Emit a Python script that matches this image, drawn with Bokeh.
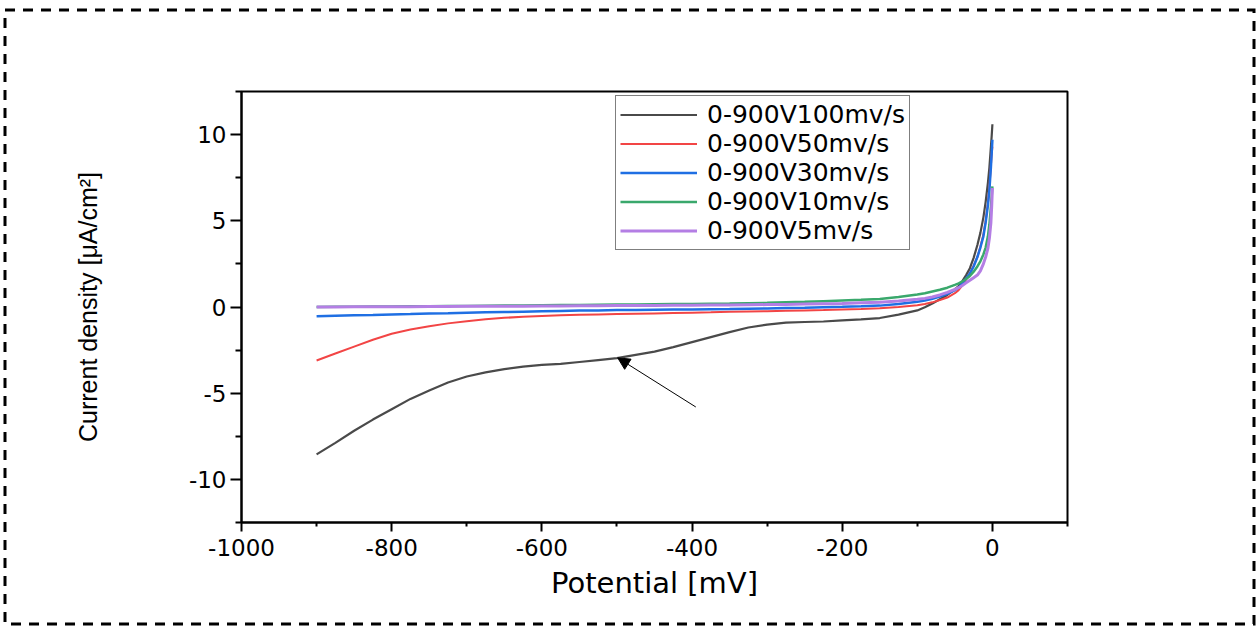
from urllib.parse import quote
from bokeh.plotting import figure
from bokeh.models import (FixedTicker, Legend, LegendItem, Arrow, NormalHead, Range1d)
from bokeh.embed import file_html
from bokeh.resources import INLINE

# ---------------- data ----------------
potential = [-900, -875, -850, -825, -800, -775, -750, -725, -700, -675, -650,
             -625, -600, -575, -550, -525, -500, -475, -450, -425, -400, -375,
             -350, -325, -300, -275, -250, -225, -200, -175, -150, -125, -100,
             -90, -80, -70, -60, -50, -45, -40, -35, -30, -25, -20, -16, -12,
             -9, -6, -4, -2, -1, 0]

j_100 = [-8.55, -7.88, -7.18, -6.53, -5.93, -5.33, -4.84, -4.38, -4.03, -3.79, -3.6,
         -3.46, -3.36, -3.3, -3.19, -3.08, -2.97, -2.78, -2.59, -2.33, -2.04, -1.75,
         -1.46, -1.19, -1.02, -0.91, -0.87, -0.84, -0.78, -0.72, -0.64, -0.44, -0.2,
         -0.02, 0.2, 0.45, 0.7, 1.02, 1.22, 1.5, 1.85, 2.25, 2.85, 3.6, 4.3, 5.2,
         6.1, 7.2, 8.1, 9.3, 9.9, 10.6]
j_50 = [-3.1, -2.7, -2.3, -1.9, -1.55, -1.31, -1.12, -0.95, -0.82, -0.71, -0.63,
        -0.56, -0.52, -0.48, -0.45, -0.43, -0.41, -0.39, -0.37, -0.35, -0.33, -0.31,
        -0.28, -0.26, -0.24, -0.22, -0.2, -0.18, -0.15, -0.12, -0.07, 0.0, 0.1,
        0.18, 0.27, 0.4, 0.55, 0.8, 0.98, 1.25, 1.6, 1.95, 2.4, 2.9, 3.5, 4.2,
        5.0, 6.0, 7.0, 8.2, 8.9, 9.3]
j_30 = [-0.54, -0.51, -0.48, -0.46, -0.43, -0.41, -0.38, -0.36, -0.33, -0.31, -0.29,
        -0.27, -0.25, -0.23, -0.21, -0.2, -0.18, -0.17, -0.16, -0.15, -0.14, -0.13,
        -0.12, -0.1, -0.08, -0.06, -0.04, -0.01, 0.01, 0.04, 0.08, 0.17, 0.3,
        0.38, 0.47, 0.6, 0.76, 0.98, 1.13, 1.36, 1.65, 1.95, 2.35, 2.9, 3.45, 4.1,
        4.9, 5.9, 6.8, 8.1, 8.9, 9.7]
j_10 = [0.0, 0.01, 0.02, 0.03, 0.03, 0.04, 0.05, 0.06, 0.06, 0.07, 0.08,
        0.09, 0.1, 0.11, 0.12, 0.13, 0.14, 0.15, 0.16, 0.17, 0.18, 0.19,
        0.2, 0.22, 0.24, 0.27, 0.3, 0.34, 0.38, 0.42, 0.47, 0.58, 0.72,
        0.8, 0.9, 1.0, 1.12, 1.28, 1.37, 1.48, 1.62, 1.8, 2.05, 2.35, 2.65, 3.05,
        3.45, 4.1, 4.8, 5.8, 6.4, 7.0]
j_5 = [0.0, 0.0, 0.01, 0.01, 0.02, 0.02, 0.03, 0.03, 0.04, 0.04, 0.05,
       0.05, 0.06, 0.06, 0.07, 0.07, 0.08, 0.08, 0.09, 0.1, 0.1, 0.11,
       0.12, 0.13, 0.14, 0.15, 0.17, 0.19, 0.21, 0.24, 0.27, 0.35, 0.45,
       0.5, 0.58, 0.7, 0.85, 1.02, 1.12, 1.25, 1.4, 1.55, 1.7, 1.85, 2.1, 2.5,
       2.9, 3.4, 4.0, 4.9, 5.8, 6.9]

series_labels = ["0-900V100mv/s", "0-900V50mv/s", "0-900V30mv/s",
                 "0-900V10mv/s", "0-900V5mv/s"]
series_values = [j_100, j_50, j_30, j_10, j_5]
series_colors = ["#4a4a4a", "#f24545", "#1f6fe3", "#3aa86c", "#b47ee4"]
series_widths = [2.2, 2, 2.5, 2.5, 3]

x_ticks = [-1000, -800, -600, -400, -200, 0]
x_tick_labels = ["-1000", "-800", "-600", "-400", "-200", "0"]
x_minor = [-900, -700, -500, -300, -100, 100]
y_ticks = [-10, -5, 0, 5, 10]
y_tick_labels = ["-10", "-5", "0", "5", "10"]
y_minor = [-12.5, -7.5, -2.5, 2.5, 7.5, 12.5]

# annotation arrow (data coordinates)
arrow_start = (-395, -5.8)
arrow_end = (-499, -2.95)

# ---------------- figure ----------------
FONT = "DejaVu Sans"
W, H = 1258, 626

p = figure(width=W, height=H, output_backend="svg", toolbar_location=None,
           x_range=Range1d(-1000, 100), y_range=Range1d(-12.5, 12.5),
           min_border_left=241, min_border_right=191,
           min_border_top=91, min_border_bottom=104)

p.grid.visible = False
p.outline_line_color = "black"
p.outline_line_width = 2
p.background_fill_color = "white"
p.border_fill_color = None

# dashed page border drawn as the page background behind the transparent canvas border
border_svg = ("<svg xmlns='http://www.w3.org/2000/svg' width='%d' height='%d'>"
              "<rect x='5' y='10' width='1249' height='614' fill='none' "
              "stroke='black' stroke-width='3' stroke-dasharray='10 8'/></svg>" % (W, H))
p.styles = {"background-image": 'url("data:image/svg+xml;charset=utf-8,%s")' % quote(border_svg),
            "background-repeat": "no-repeat",
            "background-color": "white"}

# axes
p.xaxis.ticker = FixedTicker(ticks=x_ticks, minor_ticks=x_minor)
p.xaxis.major_label_overrides = {t: l for t, l in zip(x_ticks, x_tick_labels)}
p.yaxis.ticker = FixedTicker(ticks=y_ticks, minor_ticks=y_minor)
p.yaxis.major_label_overrides = {t: l for t, l in zip(y_ticks, y_tick_labels)}

for ax in (p.xaxis, p.yaxis):
    ax.axis_line_width = 2
    ax.axis_line_color = "black"
    ax.major_tick_line_width = 2
    ax.minor_tick_line_width = 2
    ax.major_tick_line_color = "black"
    ax.minor_tick_line_color = "black"
    ax.major_tick_in = 0
    ax.minor_tick_in = 0
    ax.major_label_text_font = FONT
    ax.major_label_text_font_size = "23px"
    ax.major_label_text_color = "black"
    ax.axis_label_text_font_style = "normal"
    ax.axis_label_text_color = "black"

p.xaxis.major_tick_out = 9
p.xaxis.minor_tick_out = 4
p.xaxis.major_label_standoff = 7
p.xaxis.axis_label = "Potential [mV]"
p.xaxis.axis_label_text_font = FONT
p.xaxis.axis_label_text_font_size = "29px"
p.xaxis.axis_label_standoff = 7

p.yaxis.major_tick_out = 11
p.yaxis.minor_tick_out = 6
p.yaxis.major_label_standoff = 4
p.yaxis.axis_label = "Current density [\u03bcA/cm\u00b2]"
p.yaxis.axis_label_text_font = "Liberation Sans"
p.yaxis.axis_label_text_font_size = "25px"
p.yaxis.axis_label_standoff = 84

# curves
items = []
for lab, vals, col, w in zip(series_labels, series_values, series_colors, series_widths):
    r = p.line(potential, vals, line_color=col, line_width=w)
    items.append(LegendItem(label=lab, renderers=[r]))

legend = Legend(items=items, location=(374, 272),
                label_text_font=FONT, label_text_font_size="25px",
                label_text_color="black",
                glyph_width=77, glyph_height=27, label_height=27,
                label_standoff=10, padding=4, spacing=0, margin=0,
                border_line_color="black", border_line_width=1.5,
                background_fill_alpha=1.0)
p.add_layout(legend)

# arrow annotation
p.add_layout(Arrow(end=NormalHead(size=12, fill_color="black", line_color="black"),
                   x_start=arrow_start[0], y_start=arrow_start[1],
                   x_end=arrow_end[0], y_end=arrow_end[1],
                   line_color="black", line_width=1))

open("out.html", "w").write(file_html(p, INLINE))
